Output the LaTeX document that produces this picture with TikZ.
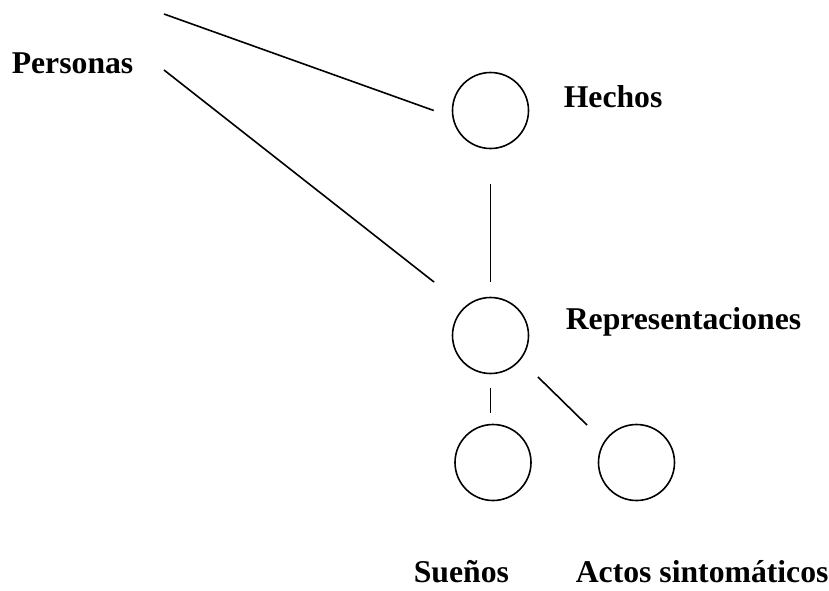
\documentclass[tikz,border=0pt]{standalone}
\usepackage{fontspec}
\setmainfont{Liberation Serif}
\usetikzlibrary{calc}

\begin{document}
\begin{tikzpicture}[x=1pt,y=-1pt,line width=1.6pt]
        \newcommand{\figcircdiam}{76pt}
        \newcommand{\figlblsize}{\fontsize{31.7}{38}\selectfont\bfseries}
        \tikzset{circnode/.style={draw,circle,minimum size=\figcircdiam,inner sep=0pt},
                 lblnode/.style={anchor=base west,inner sep=0pt,font=\figlblsize}}
        \useasboundingbox (0,0) rectangle (829,590);
        % circles
        \node[circnode] (hechos) at (490.5,110.5) {};
        \node[circnode] (repr) at (490.5,335.5) {};
        \node[circnode] (suenos) at (493,462.5) {};
        \node[circnode] (actos) at (636.5,462.5) {};
        % labels
        \node[lblnode] (personas) at (11,73) {Personas};
        \node[lblnode] (lblhechos) at (563,107) {Hechos};
        \node[lblnode] (lblrepr) at (565,329) {Representaciones};
        \node[lblnode] (lblsuenos) at (413,582) {Sueños};
        \node[lblnode] (lblactos) at (575,582) {Actos sintomáticos};
        % lines
        \coordinate (ptop) at (164,14);
        \coordinate (pbot) at (164,70);
        \coordinate (hin) at ($(hechos.west)+(-18,0)$);
        \coordinate (rin) at ($(repr.north west)+(-29,-26)$);
        \coordinate (rout) at ($(repr.south east)+(20,14)$);
        \coordinate (ain) at ($(actos.north west)+(-22,-10)$);
        \draw (ptop) -- (hin);
        \draw (pbot) -- (rin);
        \draw[shorten <=35pt,shorten >=15pt] (hechos) -- (repr);
        \draw[shorten <=14pt,shorten >=11pt] (repr.south) -- (repr.south |- suenos.north);
        \draw (rout) -- (ain);
\end{tikzpicture}
\end{document}
